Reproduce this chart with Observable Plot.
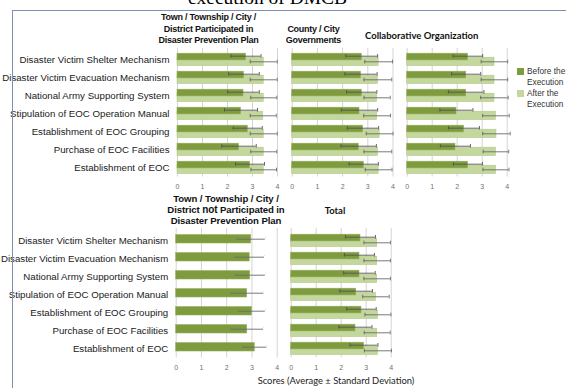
<!DOCTYPE html>
<html>
<head>
<meta charset="utf-8">
<script src="https://cdn.jsdelivr.net/npm/d3@7"></script>
<script src="https://cdn.jsdelivr.net/npm/@observablehq/plot@0.6"></script>
<style>
  html, body { margin: 0; padding: 0; background: #fff; }
  #root { position: relative; width: 566px; height: 388px; overflow: hidden; background: #fff; }
  #root svg { position: absolute; left: 0; top: 0; }
  .t { position: absolute; text-align: center; white-space: nowrap; color: #111; }
  .ttl { font-family: "Liberation Sans", Arial, sans-serif; font-weight: bold; font-size: 9px; line-height: 11.5px; letter-spacing: -0.25px; }
  .ttl2 { font-family: Lato, "Open Sans", sans-serif; font-weight: bold; font-size: 9.5px; }
  .leg { font-family: "Liberation Sans", Arial, sans-serif; font-size: 8.3px; line-height: 11px; color: #333; position: absolute; }
  .sw { position: absolute; width: 7px; height: 7px; }
</style>
</head>
<body>
<div id="root"></div>
<script>
const metrics = [
  "Disaster Victim Shelter Mechanism",
  "Disaster Victim Evacuation Mechanism",
  "National Army Supporting System",
  "Stipulation of EOC Operation Manual",
  "Establishment of EOC Grouping",
  "Purchase of EOC Facilities",
  "Establishment of EOC"
];
const ticks = [0, 1, 2, 3, 4];

// Town/Township/City/District participated
const p1Before   = [2.74, 2.66, 2.64, 2.54, 2.81, 2.46, 2.90];
const p1BeforeSD = [0.60, 0.61, 0.63, 0.66, 0.58, 0.69, 0.58];
const p1After    = [3.45, 3.45, 3.45, 3.43, 3.45, 3.45, 3.45];
const p1AfterSD  = [0.54, 0.54, 0.52, 0.52, 0.54, 0.52, 0.51];
// County / City governments
const p2Before   = [2.76, 2.73, 2.76, 2.67, 2.81, 2.64, 2.84];
const p2BeforeSD = [0.63, 0.64, 0.60, 0.72, 0.62, 0.70, 0.58];
const p2After    = [3.43, 3.40, 3.37, 3.37, 3.47, 3.40, 3.43];
const p2AfterSD  = [0.55, 0.55, 0.52, 0.53, 0.53, 0.55, 0.53];
// Collaborative organization
const p3Before   = [2.43, 2.36, 2.36, 1.97, 2.27, 1.93, 2.43];
const p3BeforeSD = [0.59, 0.58, 0.71, 0.66, 0.62, 0.60, 0.58];
const p3After    = [3.49, 3.49, 3.49, 3.55, 3.57, 3.55, 3.55];
const p3AfterSD  = [0.53, 0.53, 0.55, 0.53, 0.55, 0.51, 0.52];
// Not participated
const p4Before   = [2.97, 2.91, 2.93, 2.81, 3.00, 2.81, 3.11];
const p4BeforeSD = [0.56, 0.59, 0.60, 0.66, 0.53, 0.65, 0.48];
// Total
const p5Before   = [2.77, 2.73, 2.73, 2.60, 2.81, 2.57, 2.91];
const p5BeforeSD = [0.60, 0.60, 0.63, 0.65, 0.59, 0.66, 0.56];
const p5After    = [3.44, 3.44, 3.44, 3.39, 3.47, 3.44, 3.47];
const p5AfterSD  = [0.53, 0.53, 0.53, 0.53, 0.52, 0.52, 0.54];

const legendLabels = ["Before the\nExecution", "After the\nExecution"];
const darkGreen = "#7e9c3d";
const lightGreen = "#c4d79d";

const W = 566, H = 388;
const root = document.getElementById("root");

function panel({x0, x4, top, bottom, before, beforeSD, after, afterSD, labels, tickPad}) {
  const rows = metrics.map((m, i) => ({
    m, b: before[i], bs: beforeSD[i],
    a: after ? after[i] : null, as: after ? afterSD[i] : null
  }));
  const marks = [
    Plot.ruleX(ticks, {stroke: "#d4d4d4", strokeWidth: 1})
  ];
  if (after) {
    marks.push(
      Plot.barX(rows, {x: "a", y: "m", fill: lightGreen, stroke: "#b4c98b", strokeWidth: 0.6, insetTop: 8.2, insetBottom: 1.4}),
      Plot.barX(rows, {x: "b", y: "m", fill: darkGreen, stroke: "#93ad5a", strokeWidth: 0.6, insetTop: 4.2, insetBottom: 7.1}),
      Plot.ruleY(rows, {x1: d => d.a - d.as, x2: d => d.a + d.as, y: "m", dy: 3.3, stroke: "#6b6b6b", strokeWidth: 0.9}),
      Plot.tickX(rows, {x: d => d.a - d.as, y: "m", insetTop: 10.7, insetBottom: 3.6, stroke: "#6b6b6b", strokeWidth: 0.9}),
      Plot.tickX(rows, {x: d => d.a + d.as, y: "m", insetTop: 10.7, insetBottom: 3.6, stroke: "#6b6b6b", strokeWidth: 0.9}),
      Plot.ruleY(rows, {x1: d => d.b - d.bs, x2: d => d.b + d.bs, y: "m", dy: -2.3, stroke: "#555", strokeWidth: 0.9}),
      Plot.tickX(rows, {x: d => d.b - d.bs, y: "m", insetTop: 5, insetBottom: 9.4, stroke: "#555", strokeWidth: 0.9}),
      Plot.tickX(rows, {x: d => d.b + d.bs, y: "m", insetTop: 5, insetBottom: 9.4, stroke: "#555", strokeWidth: 0.9})
    );
  } else {
    marks.push(
      Plot.barX(rows, {x: "b", y: "m", fill: darkGreen, stroke: "#93ad5a", strokeWidth: 0.6, insetTop: 4.6, insetBottom: 5.0}),
      Plot.ruleY(rows, {x1: d => d.b - d.bs, x2: d => d.b + d.bs, y: "m", dy: -0.3, stroke: "#6b6b6b", strokeWidth: 0.9}),
      Plot.tickX(rows, {x: d => d.b - d.bs, y: "m", insetTop: 7.3, insetBottom: 10.5, stroke: "#6b6b6b", strokeWidth: 0.9}),
      Plot.tickX(rows, {x: d => d.b + d.bs, y: "m", insetTop: 7.3, insetBottom: 10.5, stroke: "#6b6b6b", strokeWidth: 0.9})
    );
  }
  marks.push(Plot.axisX({ticks, tickSize: 0, tickPadding: tickPad, fontSize: 7, color: "#707070", label: null, tickFormat: d => String(d)}));
  if (labels) {
    marks.push(Plot.axisY({tickSize: 0, tickPadding: 8, fontSize: 9.7, color: "#1a1a1a", label: null, dy: 1}));
  }
  const svg = Plot.plot({
    width: W, height: H,
    marginLeft: x0, marginRight: W - x4, marginTop: top, marginBottom: H - bottom,
    x: {domain: [0, 4]},
    y: {domain: metrics, padding: 0, axis: labels ? undefined : null},
    style: {background: "transparent", fontFamily: "Liberation Sans, Arial, sans-serif", overflow: "visible"},
    marks
  });
  root.appendChild(svg);
}

panel({x0: 177, x4: 277, top: 48, bottom: 176.5, before: p1Before, beforeSD: p1BeforeSD, after: p1After, afterSD: p1AfterSD, labels: true, tickPad: 7});
panel({x0: 291.7, x4: 392.5, top: 48, bottom: 176.5, before: p2Before, beforeSD: p2BeforeSD, after: p2After, afterSD: p2AfterSD, labels: false, tickPad: 7});
panel({x0: 406.7, x4: 506.7, top: 48, bottom: 176.5, before: p3Before, beforeSD: p3BeforeSD, after: p3After, afterSD: p3AfterSD, labels: false, tickPad: 7});
panel({x0: 175.7, x4: 276.7, top: 228, bottom: 357.5, before: p4Before, beforeSD: p4BeforeSD, labels: true, tickPad: 7.5});
panel({x0: 290.7, x4: 390.7, top: 228, bottom: 357.5, before: p5Before, beforeSD: p5BeforeSD, after: p5After, afterSD: p5AfterSD, labels: false, tickPad: 7.5});

function addText(html, cls, cx, y, extra) {
  const d = document.createElement("div");
  d.className = "t " + cls;
  d.innerHTML = html;
  d.style.left = (cx - 100) + "px";
  d.style.width = "200px";
  d.style.top = y + "px";
  if (extra) Object.assign(d.style, extra);
  root.appendChild(d);
}

// figure frame
const frame = document.createElement("div");
Object.assign(frame.style, {position: "absolute", left: "12px", top: "10px", width: "600px", height: "400px", border: "1.3px solid #7d90b3"});
root.appendChild(frame);

// cut-off caption title
addText("execution of DMCB", "", 267.5, -12, {fontFamily: "Liberation Serif, Times New Roman, serif", fontSize: "19.5px", lineHeight: "20px", color: "#000"});

addText("Town / Township / City /<br>District Participated in<br>Disaster Prevention Plan", "ttl", 208.5, 12);
addText("County / City<br>Governments", "ttl", 313.5, 23.5);
addText("Collaborative Organization", "ttl2", 421.7, 30);
addText("Town / Township / City /<br>District <span style=\"font-weight:900;font-size:10px\">not</span> Participated in<br>Disaster Prevention Plan", "ttl", 226, 192.5, {fontSize: "9.6px", letterSpacing: "-0.1px", lineHeight: "11px"});
addText("Total", "ttl2", 335, 204.5);
addText("Scores (Average \u00b1 Standard Deviation)", "", 336, 374.5, {fontFamily: "Lato, 'Open Sans', sans-serif", fontSize: "9.4px", color: "#222"});

// legend
const legColors = [darkGreen, lightGreen];
const legY = [68, 90];
legendLabels.forEach((lab, i) => {
  const s = document.createElement("div");
  s.className = "sw";
  Object.assign(s.style, {left: "517px", top: legY[i] + "px", background: legColors[i]});
  root.appendChild(s);
  const t = document.createElement("div");
  t.className = "leg";
  t.innerHTML = lab.replace("\n", "<br>");
  Object.assign(t.style, {left: "527px", top: (legY[i] - 2) + "px"});
  root.appendChild(t);
});
</script>
</body>
</html>
